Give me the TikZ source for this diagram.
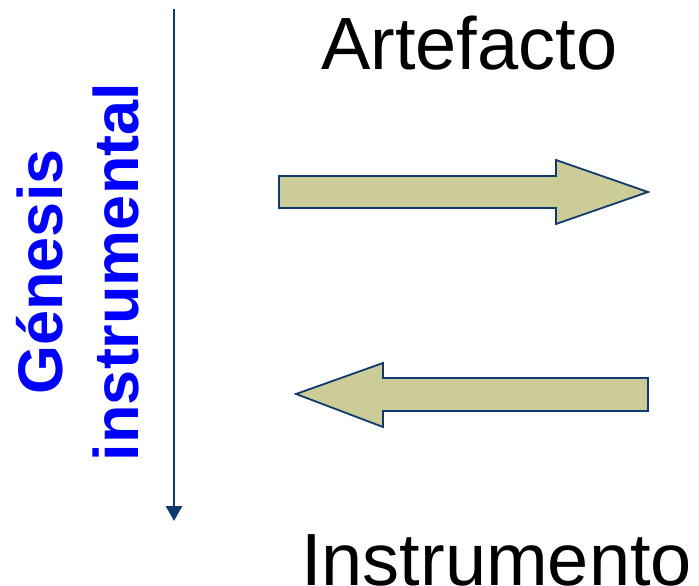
\documentclass[tikz,border=0pt]{standalone}
\usepackage{fontspec}
\setmainfont{Liberation Sans}
\usetikzlibrary{arrows.meta,positioning}
\definecolor{navyline}{RGB}{16,58,110}
\definecolor{khaki}{RGB}{204,204,153}
\definecolor{genblue}{RGB}{0,0,255}

\begin{document}
\begin{tikzpicture}[x=1pt,y=-1pt,
  word/.style={inner sep=0pt,anchor=base west,text=black,
    font=\fontsize{74}{80}\selectfont},
  genesis/.style={inner sep=0pt,anchor=base,rotate=90,text=genblue,
    font=\fontsize{63}{70}\selectfont\bfseries},
  blockarrow/.style={draw=navyline,line width=1.8pt,fill=khaki,line join=miter},
  axis/.style={-{Triangle[length=15pt,width=16pt]},draw=navyline,
    line width=2.6pt}]
\useasboundingbox (0,0) rectangle (699,586);

\node[word] (artefacto) at (321,70) {Artefacto};
\node[word] (instrumento) at (301,585) {Instrumento};

\node[genesis] (gen) at (62,272) {Génesis};
\node[genesis] (instr) at (138,272) {instrumental};

\coordinate (axtop) at (174,9);
\coordinate (axbot) at (174,521);
\draw[axis] (axtop)--(axbot);

% arrow to the right
\draw[blockarrow] (279,176)--(556,176)--(556,160)--(648,192)--
  (556,224)--(556,208)--(279,208)--cycle;
% arrow to the left
\draw[blockarrow] (648,378)--(383,378)--(383,363)--(296,394)--
  (383,427)--(383,411)--(648,411)--cycle;
\end{tikzpicture}
\end{document}
